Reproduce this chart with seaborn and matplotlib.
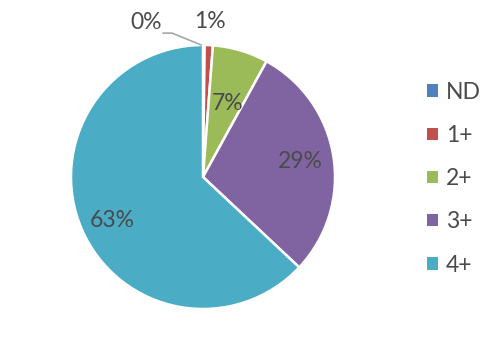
import numpy as np
import matplotlib
matplotlib.use("Agg")
import matplotlib.pyplot as plt
import seaborn as sns
from matplotlib.patches import Patch

categories = ["ND", "1+", "2+", "3+", "4+"]
values = [0.2, 1.0, 6.8, 29.0, 63.0]
labels_pct = ["0%", "1%", "7%", "29%", "63%"]
colors = ["#4F81BD", "#C0504D", "#9BBB59", "#8064A2", "#4BACC6"]

sns.set_theme(style="white")
plt.rcParams['font.family'] = ['Lato', 'DejaVu Sans']
txt_color = "#4A4A4A"

fig = plt.figure(figsize=(4.89, 3.55), dpi=100)
ax = fig.add_axes([71/489, (355-309)/355, 264/489, 264/355])
wedges, _ = ax.pie(values, colors=colors, startangle=90, counterclock=False,
                   radius=1.0, wedgeprops=dict(edgecolor="white", linewidth=1.8))
ax.set_xlim(-1, 1)
ax.set_ylim(-1, 1)
ax.set_aspect("equal")
ax.axis("off")

fs = 16.5
for i, w in enumerate(wedges):
    mid = np.deg2rad((w.theta1 + w.theta2) / 2)
    if i == 0:
        # leader line for 0%
        ex, ey = np.cos(mid) * 1.0, np.sin(mid) * 1.0
        ax.plot([ex - 0.02, ex - 0.24, ex - 0.31], [ey, ey + 0.09, ey + 0.09],
                color="#A6A6A6", lw=1.2, clip_on=False)
        ax.text(ex - 0.44, ey + 0.17, labels_pct[i], ha="center", va="center",
                fontsize=fs, color=txt_color)
    elif i == 1:
        r = 1.18
        ax.text(r * np.cos(mid), r * np.sin(mid), labels_pct[i], ha="center",
                va="center", fontsize=fs, color=txt_color)
    elif i == 2:
        r = 0.58
        ax.text(r * np.cos(mid) + 0.02, r * np.sin(mid), labels_pct[i], ha="center",
                va="center", fontsize=fs, color=txt_color)
    else:
        r = 0.75
        ax.text(r * np.cos(mid), r * np.sin(mid) - (0.03 if i == 4 else 0), labels_pct[i],
                ha="center", va="center", fontsize=fs, color=txt_color)

handles = [Patch(facecolor=c, edgecolor="none") for c in colors]
fig.legend(handles, categories, loc="center left", bbox_to_anchor=(416/489, 0.497),
           frameon=False, fontsize=fs, labelcolor=txt_color,
           handlelength=0.45, handleheight=0.45, handletextpad=0.35,
           labelspacing=0.97, borderpad=0)

fig.savefig("out.png", dpi=100)
